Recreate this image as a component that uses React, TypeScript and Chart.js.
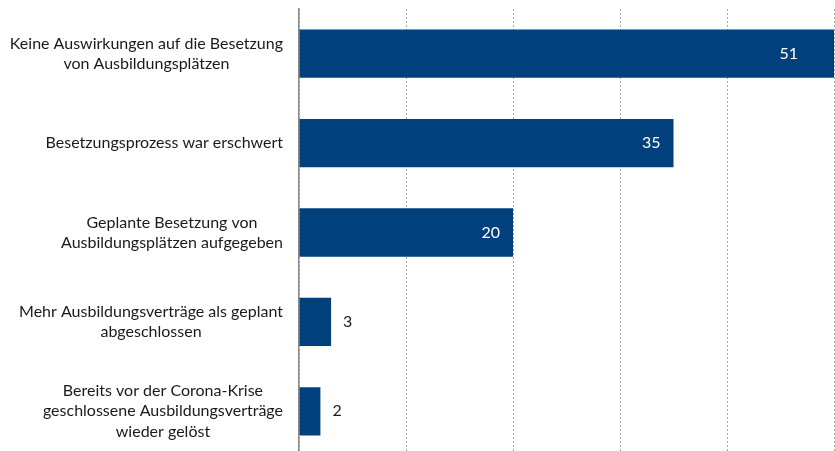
import React, { useEffect, useRef } from "react";
import { Chart, registerables } from "chart.js";

Chart.register(...registerables);

const categories: string[][] = [
  ["Keine Auswirkungen auf die Besetzung", "von Ausbildungsplätzen"],
  ["Besetzungsprozess war erschwert"],
  ["Geplante Besetzung von", "Ausbildungsplätzen aufgegeben"],
  ["Mehr Ausbildungsverträge als geplant", "abgeschlossen"],
  ["Bereits vor der Corona-Krise", "geschlossene Ausbildungsverträge", "wieder gelöst"],
];
const values: number[] = [51, 35, 20, 3, 2];
const xMin = 0;
const xMax = 50;
const xStep = 10;

const FONT = "Lato, 'Noto Sans', sans-serif";
const LABEL_FS = 16;
const VALUE_FS = 16;
const BAR_COLOR = "#00407d";
const TEXT_COLOR = "#1a1a1a";
const LABEL_RIGHT = 283;
const AXIS_WIDTH = 299;

const catLabelPlugin = {
  id: "catLabels",
  afterDraw(chart: any) {
    const ctx = chart.ctx as CanvasRenderingContext2D;
    const y = chart.scales.y;
    ctx.save();
    ctx.font = `${LABEL_FS}px ${FONT}`;
    ctx.fillStyle = TEXT_COLOR;
    ctx.textAlign = "center";
    ctx.textBaseline = "middle";
    const lh = 20.3;
    categories.forEach((lines, i) => {
      const cy = y.getPixelForValue(i);
      const w = Math.max(...lines.map((l) => ctx.measureText(l).width));
      const cx = LABEL_RIGHT - w / 2;
      lines.forEach((l, j) => {
        ctx.fillText(l, cx, cy + (j - (lines.length - 1) / 2) * lh);
      });
    });
    ctx.restore();
  },
};

const valueLabelPlugin = {
  id: "valueLabels",
  afterDatasetsDraw(chart: any) {
    const ctx = chart.ctx as CanvasRenderingContext2D;
    const meta = chart.getDatasetMeta(0);
    const area = chart.chartArea;
    ctx.save();
    ctx.font = `${VALUE_FS}px ${FONT}`;
    ctx.textBaseline = "middle";
    meta.data.forEach((bar: any, i: number) => {
      const v = values[i];
      if (v >= 10) {
        ctx.fillStyle = "#ffffff";
        ctx.textAlign = "right";
        const x = Math.min(bar.x - 13, area.right - 36);
        ctx.fillText(String(v), x, bar.y);
      } else {
        ctx.fillStyle = TEXT_COLOR;
        ctx.textAlign = "left";
        ctx.fillText(String(v), bar.x + 12, bar.y);
      }
    });
    ctx.restore();
  },
};

export default function App() {
  const ref = useRef<HTMLCanvasElement | null>(null);
  useEffect(() => {
    if (!ref.current) return;
    const chart = new Chart(ref.current, {
      type: "bar",
      data: {
        labels: categories,
        datasets: [
          {
            data: values,
            backgroundColor: BAR_COLOR,
            borderWidth: 0,
            barPercentage: 0.54,
            categoryPercentage: 1,
            clip: 0 as any,
          },
        ],
      },
      options: {
        indexAxis: "y",
        responsive: false,
        animation: false,
        devicePixelRatio: 1,
        layout: { padding: { top: 9, right: 1, bottom: 0, left: 0 } },
        plugins: {
          legend: { display: false },
          tooltip: { enabled: false },
          title: { display: false },
        },
        scales: {
          x: {
            min: xMin,
            max: xMax,
            ticks: { display: false, stepSize: xStep },
            grid: {
              display: true,
              color: "#a8a8a8",
              lineWidth: 1,
              drawTicks: false,
            },
            border: { display: false, dash: [2, 2] },
            afterFit(scale: any) {
              scale.height = 0;
            },
          },
          y: {
            ticks: { display: false },
            grid: { display: false, drawTicks: false },
            border: { display: true, color: "#888888", width: 1.5 },
            afterFit(scale: any) {
              scale.width = AXIS_WIDTH;
            },
          },
        },
      },
      plugins: [catLabelPlugin, valueLabelPlugin],
    });
    return () => chart.destroy();
  }, []);
  return (
    <div
      style={{
        position: "absolute",
        left: 0,
        top: 0,
        width: 835,
        height: 451,
        overflow: "hidden",
        background: "#ffffff",
      }}
    >
      <canvas ref={ref} width={835} height={456} style={{ display: "block" }} />
    </div>
  );
}
